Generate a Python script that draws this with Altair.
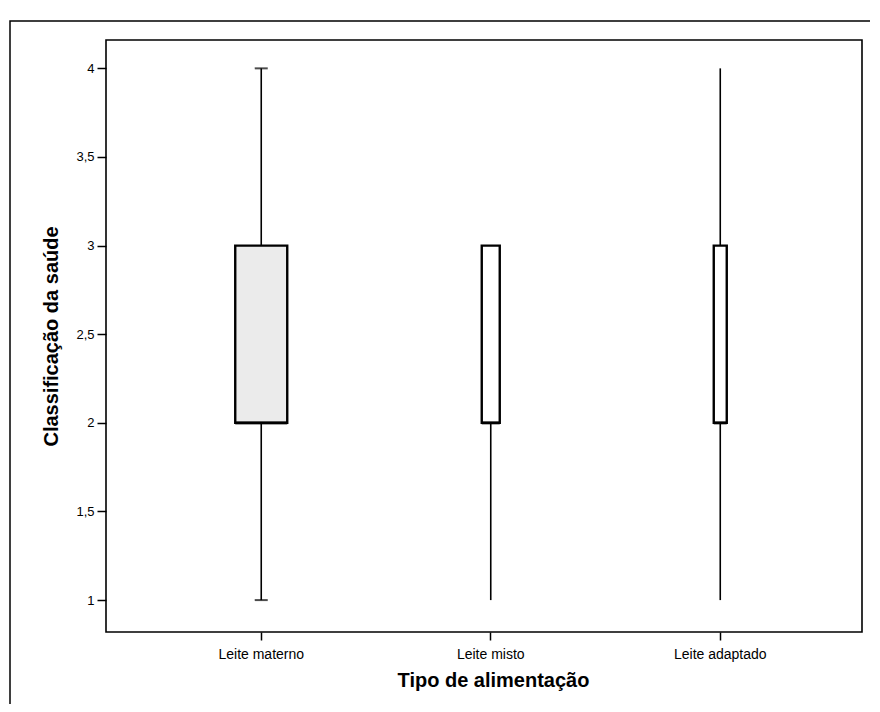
import altair as alt
import pandas as pd

# ---- data ----
categories = ["Leite materno", "Leite misto", "Leite adaptado"]
whisker_low = [1.0, 1.0, 1.0]
q1 = [2.0, 2.0, 2.0]
median = [2.0, 2.0, 2.0]
q3 = [3.0, 3.0, 3.0]
whisker_high = [4.0, 3.0, 4.0]
has_caps = [True, False, False]

df = pd.DataFrame({
    "cat": categories,
    "low": whisker_low,
    "q1": q1,
    "med": median,
    "q3": q3,
    "high": whisker_high,
    "caps": has_caps,
})
caps_df = df[df["caps"]]

W, H = 756, 592
FONT = "Liberation Sans"

xscale = alt.Scale(domain=categories, paddingInner=0, paddingOuter=0.147, align=0.6)
yscale = alt.Scale(domain=[0.82, 4.16], nice=False, zero=False)
size_scale = alt.Scale(type="ordinal", domain=categories, range=[52, 18, 13])
fill_scale = alt.Scale(type="ordinal", domain=categories,
                       range=["#ebebeb", "#ffffff", "#ffffff"])

x_enc = alt.X(
    "cat:N", scale=xscale, sort=categories,
    axis=alt.Axis(
        title="Tipo de alimentação", labelAngle=0, domain=False,
        tickSize=8, tickColor="black", tickWidth=1.5,
        labelFontSize=14, labelColor="black", labelPadding=7, labelFont=FONT,
        titleFontSize=20, titleFontWeight="bold", titleFont=FONT,
        titleColor="black", titlePadding=9, titleX=387,
    ),
)
y_axis = alt.Axis(
    title="Classificação da saúde", values=[1, 1.5, 2, 2.5, 3, 3.5, 4],
    labelExpr="replace(format(datum.value, '~g'), '.', ',')",
    domain=False, grid=False, tickSize=9, tickColor="black", tickWidth=1.5,
    labelFontSize=13, labelColor="black", labelPadding=3, labelFont=FONT,
    titleFontSize=20, titleFontWeight="bold", titleFont=FONT,
    titleColor="black", titlePadding=14,
)

base = alt.Chart(df)

whisk_lo = base.mark_rule(color="black", strokeWidth=1.6).encode(
    x=x_enc, y=alt.Y("low:Q", scale=yscale, axis=y_axis), y2="q1:Q"
)
whisk_hi = base.mark_rule(color="black", strokeWidth=1.6).encode(
    x="cat:N", y="q3:Q", y2="high:Q"
)
boxes = base.mark_bar(stroke="black", strokeWidth=2.4).encode(
    x="cat:N", y="q1:Q", y2="q3:Q",
    size=alt.Size("cat:N", scale=size_scale, legend=None),
    fill=alt.Fill("cat:N", scale=fill_scale, legend=None),
)
med_line = base.mark_tick(color="black", thickness=3.2).encode(
    x="cat:N", y="med:Q",
    size=alt.Size("cat:N", scale=size_scale, legend=None),
)
cap_lo = alt.Chart(caps_df).mark_tick(color="black", thickness=2, size=13).encode(
    x="cat:N", y="low:Q"
)
cap_hi = alt.Chart(caps_df).mark_tick(color="black", thickness=2, size=13).encode(
    x="cat:N", y="high:Q"
)

# decorative outer frame of the original figure
frame = alt.Chart(pd.DataFrame({"k": [0]})).mark_rect(
    fill=None, stroke="black", strokeWidth=1.5
).encode(
    x=alt.value(-96), x2=alt.value(W + 60),
    y=alt.value(-19), y2=alt.value(H + 200),
)

chart = alt.layer(frame, whisk_lo, whisk_hi, boxes, med_line, cap_lo, cap_hi).properties(
    width=W, height=H,
    autosize=alt.AutoSizeParams(type="none"),
    padding={"left": 98, "top": 32, "right": 8, "bottom": 72},
    background="white",
).configure_view(
    stroke="black", strokeWidth=1.6
)

chart.save("out.html", embed_options={"renderer": "svg", "actions": False})
